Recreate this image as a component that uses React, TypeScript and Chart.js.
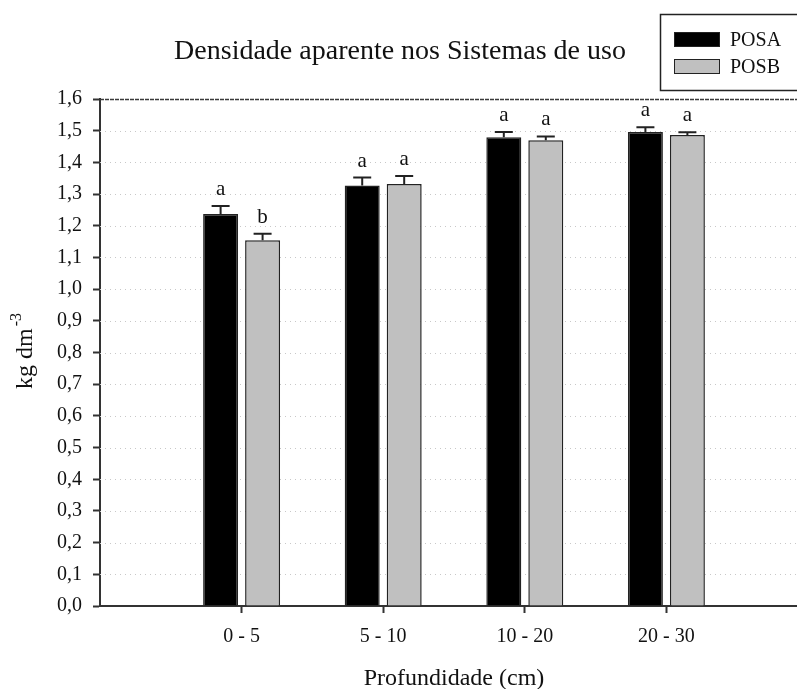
import React, { useEffect, useRef } from 'react';
import { Chart, registerables } from 'chart.js';

Chart.register(...registerables);

const categories = ['0 - 5', '5 - 10', '10 - 20', '20 - 30'];
const seriesNames = ['POSA', 'POSB'];
const posaValues = [1.237, 1.327, 1.479, 1.496];
const posaErrors = [0.025, 0.025, 0.017, 0.015];
const posbValues = [1.154, 1.332, 1.47, 1.486];
const posbErrors = [0.021, 0.025, 0.012, 0.009];
const posaLetters = ['a', 'a', 'a', 'a'];
const posbLetters = ['b', 'a', 'a', 'a'];
const yMin = 0;
const yMax = 1.6;
const yStep = 0.1;
const titleText = 'Densidade aparente nos Sistemas de uso';
const xTitle = 'Profundidade (cm)';
const yTitleMain = 'kg dm';
const yTitleSup = '-3';

const FONT = "'Liberation Serif', 'Times New Roman', serif";
const errors = [posaErrors, posbErrors];
const letters = [posaLetters, posbLetters];

const gridPlugin = {
  id: 'customGrid',
  beforeDatasetsDraw(chart: any) {
    const { ctx, chartArea } = chart;
    const y = chart.scales.y;
    ctx.save();
    y.ticks.forEach((t: any, i: number) => {
      if (i === 0) return;
      const py = Math.round(y.getPixelForValue(t.value)) + 0.5;
      const isTop = i === y.ticks.length - 1;
      ctx.beginPath();
      ctx.strokeStyle = isTop ? '#3a3a3a' : '#c8c8c8';
      ctx.lineWidth = isTop ? 1.5 : 1;
      ctx.setLineDash(isTop ? [4, 1] : [1, 4]);
      ctx.moveTo(chartArea.left, py);
      ctx.lineTo(chartArea.right, py);
      ctx.stroke();
    });
    ctx.restore();
  },
};

const errorPlugin = {
  id: 'errorBars',
  afterDatasetsDraw(chart: any) {
    const { ctx } = chart;
    const y = chart.scales.y;
    ctx.save();
    chart.data.datasets.forEach((ds: any, di: number) => {
      const meta = chart.getDatasetMeta(di);
      meta.data.forEach((el: any, i: number) => {
        const v = ds.data[i].y;
        const top = y.getPixelForValue(v + errors[di][i]);
        ctx.strokeStyle = '#222';
        ctx.lineWidth = 2;
        ctx.setLineDash([]);
        ctx.beginPath();
        ctx.moveTo(el.x, el.y);
        ctx.lineTo(el.x, top);
        ctx.moveTo(el.x - 9, top);
        ctx.lineTo(el.x + 9, top);
        ctx.stroke();
        ctx.fillStyle = '#111';
        ctx.font = `21px ${FONT}`;
        ctx.textAlign = 'center';
        ctx.textBaseline = 'alphabetic';
        ctx.fillText(letters[di][i], el.x, top - 11);
      });
    });
    ctx.restore();
  },
};

const textPlugin = {
  id: 'texts',
  afterDraw(chart: any) {
    const { ctx } = chart;
    ctx.save();
    ctx.fillStyle = '#111';
    ctx.textBaseline = 'alphabetic';
    // title
    ctx.font = `28px ${FONT}`;
    ctx.textAlign = 'center';
    ctx.fillText(titleText, 400, 59);
    // legend box
    ctx.strokeStyle = '#222';
    ctx.lineWidth = 1.5;
    ctx.strokeRect(660.5, 14.5, 200, 76);
    const fills = ['#000000', '#c0c0c0'];
    const rectTops = [32, 59];
    seriesNames.forEach((name, i) => {
      ctx.fillStyle = fills[i];
      ctx.fillRect(674, rectTops[i], 46, 15);
      ctx.strokeStyle = '#222';
      ctx.lineWidth = 1;
      ctx.strokeRect(674.5, rectTops[i] + 0.5, 45, 14);
      ctx.fillStyle = '#111';
      ctx.font = `20px ${FONT}`;
      ctx.textAlign = 'left';
      ctx.fillText(name, 730, rectTops[i] + 14);
    });
    // x title
    ctx.font = `24px ${FONT}`;
    ctx.textAlign = 'center';
    ctx.fillText(xTitle, 454, 685);
    // y title rotated
    ctx.translate(32, 351);
    ctx.rotate(-Math.PI / 2);
    ctx.font = `24px ${FONT}`;
    const wMain = ctx.measureText(yTitleMain).width;
    ctx.font = `16px ${FONT}`;
    const wSup = ctx.measureText(yTitleSup).width;
    const total = wMain + 2 + wSup;
    ctx.textAlign = 'left';
    ctx.font = `24px ${FONT}`;
    ctx.fillText(yTitleMain, -total / 2, 0);
    ctx.font = `16px ${FONT}`;
    ctx.fillText(yTitleSup, -total / 2 + wMain + 2, -11);
    ctx.restore();
  },
};

export default function App() {
  const ref = useRef<HTMLCanvasElement | null>(null);
  useEffect(() => {
    if (!ref.current) return;
    const chart = new Chart(ref.current, {
      type: 'bar',
      data: {
        datasets: [
          {
            label: seriesNames[0],
            data: posaValues.map((v, i) => ({ x: i + 1, y: v })),
            backgroundColor: '#000000',
            borderColor: '#222',
            borderWidth: 1.5,
          },
          {
            label: seriesNames[1],
            data: posbValues.map((v, i) => ({ x: i + 1, y: v })),
            backgroundColor: '#c0c0c0',
            borderColor: '#222',
            borderWidth: 1.5,
          },
        ],
      },
      options: {
        animation: false,
        responsive: false,
        devicePixelRatio: 1,
        categoryPercentage: 0.593,
        barPercentage: 0.833,
        layout: { padding: { top: 99, left: 0, right: 22, bottom: 0 } },
        plugins: { legend: { display: false }, title: { display: false }, tooltip: { enabled: false } },
        scales: {
          x: {
            type: 'linear',
            min: 0,
            max: categories.length + 1,
            offset: false,
            afterBuildTicks: (scale: any) => {
              scale.ticks = categories.map((_, i) => ({ value: i + 1 }));
            },
            afterFit: (scale: any) => {
              scale.height = 83;
            },
            ticks: {
              autoSkip: false,
              maxRotation: 0,
              padding: 12,
              color: '#111',
              font: { family: FONT, size: 20 },
              callback: (v: any) => categories[Number(v) - 1] ?? '',
            },
            grid: { offset: false, drawOnChartArea: false, drawTicks: true, tickLength: 7, tickColor: '#333', tickWidth: 2 },
            border: { display: true, color: '#333', width: 2 },
          },
          y: {
            type: 'linear',
            min: yMin,
            max: yMax,
            afterFit: (scale: any) => {
              scale.width = 100;
            },
            ticks: {
              stepSize: yStep,
              autoSkip: false,
              padding: 11,
              color: '#111',
              font: { family: FONT, size: 20 },
              callback: (v: any) => Number(v).toFixed(1).replace('.', ','),
            },
            grid: { drawOnChartArea: false, drawTicks: true, tickLength: 7, tickColor: '#333', tickWidth: 2 },
            border: { display: true, color: '#333', width: 2 },
          },
        },
      } as any,
      plugins: [gridPlugin, errorPlugin, textPlugin],
    });
    return () => chart.destroy();
  }, []);
  return (
    <div style={{ position: 'fixed', left: 0, top: 0, width: 797, height: 689, overflow: 'hidden', background: '#fff' }}>
      <canvas ref={ref} width={830} height={689} style={{ display: 'block' }} />
    </div>
  );
}
